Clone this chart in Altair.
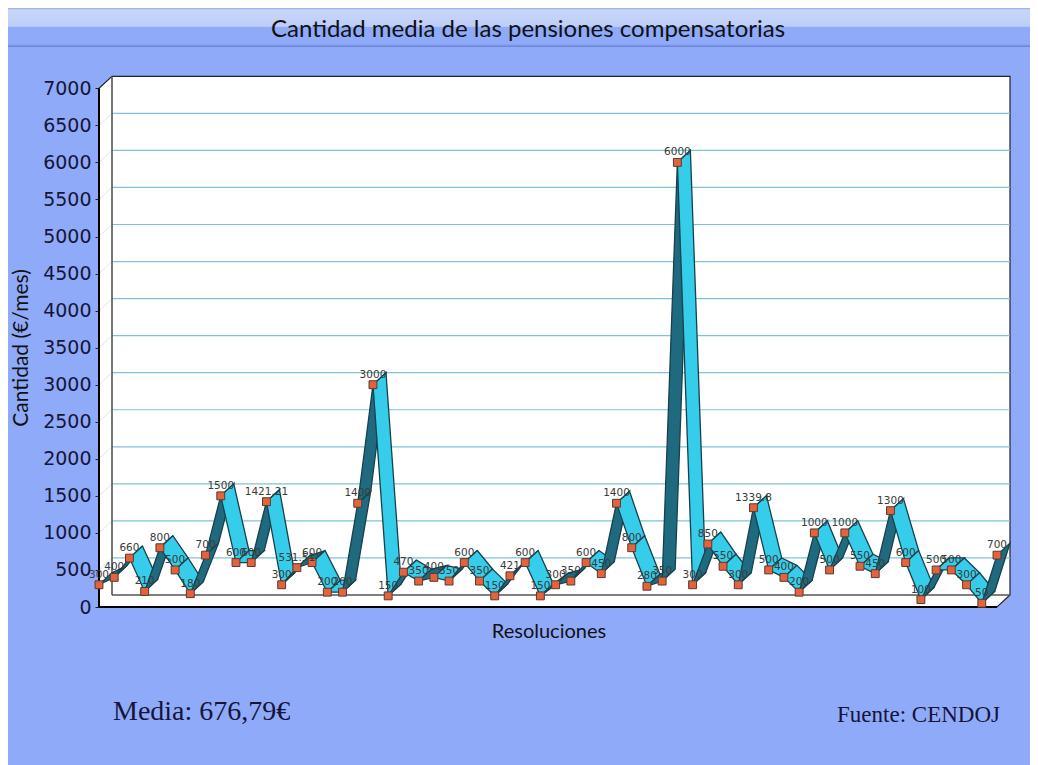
import altair as alt
import pandas as pd

values = [300, 400, 660, 210, 800, 500, 180, 700, 1500, 600, 600, 1421.21, 300, 531.51, 600, 200, 200, 1400, 3000, 150,
          470, 350, 400, 350, 600, 350, 150, 421, 600, 150, 300, 350, 600, 450, 1400, 800, 280, 350, 6000, 300,
          850, 550, 300, 1339.8, 500, 400, 200, 1000, 500, 1000, 550, 450, 1300, 600, 100, 500, 500, 300, 50, 700]
y_ticks = list(range(0, 7001, 500))
title_text = "Cantidad media de las pensiones compensatorias"
x_title = "Resoluciones"
y_title = "Cantidad (€/mes)"
mean_text = "Media: 676,79€"
source_text = "Fuente: CENDOJ"

BG = "#90aafa"
DX = 0.854
DY = 162
XMAX = 59.854
YMAX = 7166
N = len(values)
HAND = "Lato"

x_s = alt.Scale(domain=[0, XMAX], nice=False, zero=False)
y_s = alt.Scale(domain=[0, YMAX], nice=False, zero=False)
AXIS = alt.Axis(values=y_ticks, title=None, domain=False, grid=False, format="d",
                labelFont="DejaVu Sans", labelFontSize=19, labelColor="#15153a",
                tickColor="#222222", tickSize=4, labelPadding=4)
X = alt.X("x:Q", scale=x_s, axis=None)
Y = alt.Y("y:Q", scale=y_s, axis=AXIS)

pts = pd.DataFrame({"x": range(N), "y": values,
                    "label": [f"{v:g}" for v in values]})

segs = []
for i in range(N - 1):
    a, b = values[i], values[i + 1]
    face = "rise" if b > a else "fall"
    for k, (px, py) in enumerate([(i, a), (i + 1, b), (i + 1 + DX, b + DY), (i + DX, a + DY)]):
        segs.append({"seg": f"{i:02d}", "face": face, "k": k, "x": px, "y": py})
segs = pd.DataFrame(segs)

box = pd.DataFrame({"x": [0, 0, DX, 59 + DX, 59 + DX, 59],
                    "y": [0, 7000, 7000 + DY, 7000 + DY, DY, 0],
                    "k": range(6)})
box_layer = alt.Chart(box).mark_line(interpolate="linear-closed", fill="white", stroke="#222222", strokeWidth=1.2).encode(
    x=X, y=Y, order="k:O")


def rules(x0, x1, y0, y1, **kw):
    df = pd.DataFrame({"x0": x0, "x1": x1, "y0": y0, "y1": y1})
    return alt.Chart(df).mark_rule(**kw).encode(
        x=alt.X("x0:Q", scale=x_s, axis=None), x2="x1:Q",
        y=alt.Y("y0:Q", scale=y_s, axis=AXIS), y2="y1:Q")


inner = y_ticks[1:-1]
n_in = len(inner)
grid_back = rules([DX] * n_in, [59 + DX] * n_in, [v + DY for v in inner], [v + DY for v in inner],
                  color="#7cc4d0", strokeWidth=1.2)
grid_wall = rules([0] * n_in, [DX] * n_in, inner, [v + DY for v in inner], color="#d5ebee", strokeWidth=1)
edge_back = rules([DX, DX], [DX, 59 + DX], [DY, DY], [7000 + DY, DY], color="#555555", strokeWidth=1.6)
edge_front = rules([0, 0], [0, 59], [0, 0], [7000, 0], color="#000000", strokeWidth=2)

ribbon = alt.Chart(segs).mark_line(interpolate="linear-closed", stroke="#17414d", strokeWidth=1.3).encode(
    x=X, y=Y, order="k:O", detail="seg:N",
    fill=alt.Fill("face:N", scale=alt.Scale(domain=["rise", "fall"], range=["#1f6a7e", "#35cde9"]), legend=None))

markers = alt.Chart(pts).mark_square(size=62, color="#e2633c", stroke="#5a3a30", strokeWidth=1, opacity=1).encode(x=X, y=Y)
labels = alt.Chart(pts).mark_text(font="DejaVu Sans", fontSize=10.5, color="#3a3a3a", dy=-10).encode(x=X, y=Y, text="label:N")

# page furniture, placed in pixels relative to the plot area
header = alt.Chart(pd.DataFrame({"a": [0]})).mark_rect(
    fill=alt.Gradient(gradient="linear", x1=0, x2=0, y1=0, y2=1,
                      stops=[alt.GradientStop(color="#97a8e8", offset=0),
                             alt.GradientStop(color="#c8d6f9", offset=0.05),
                             alt.GradientStop(color="#bccdf8", offset=0.47),
                             alt.GradientStop(color="#90aafa", offset=0.5),
                             alt.GradientStop(color="#90aafa", offset=0.92),
                             alt.GradientStop(color="#6880d0", offset=1)])
).encode(x=alt.value(-91), x2=alt.value(931), y=alt.value(-68), y2=alt.value(-29))


def text(t, x, y, **kw):
    return alt.Chart(pd.DataFrame({"t": [t]})).mark_text(**kw).encode(
        x=alt.value(x), y=alt.value(y), text="t:N")


title = text(title_text, 429, -46, font=HAND, fontSize=24, color="#111111", align="center", baseline="middle")
xt = text(x_title, 450, 556, font=HAND, fontSize=20, color="#111111", align="center", baseline="middle")
yt = text(y_title, -77, 272, font=HAND, fontSize=21, color="#111111", align="center", baseline="middle", angle=270)
mean = text(mean_text, 14, 636, font="Liberation Serif", fontSize=28, color="#15153a", align="left", baseline="middle")
src = text(source_text, 901, 639, font="Liberation Serif", fontSize=23, color="#15153a", align="right", baseline="middle")

chart = alt.layer(header, box_layer, grid_wall, grid_back, edge_back, ribbon, edge_front, markers, labels,
                  title, xt, yt, mean, src).properties(
    width=911, height=531, background=BG,
    padding={"left": 91, "top": 68, "right": 20, "bottom": 158},
    autosize=alt.AutoSizeParams(type="none"),
).configure_view(stroke=None)

chart.save("out.html", embed_options={"renderer": "svg", "actions": False})
